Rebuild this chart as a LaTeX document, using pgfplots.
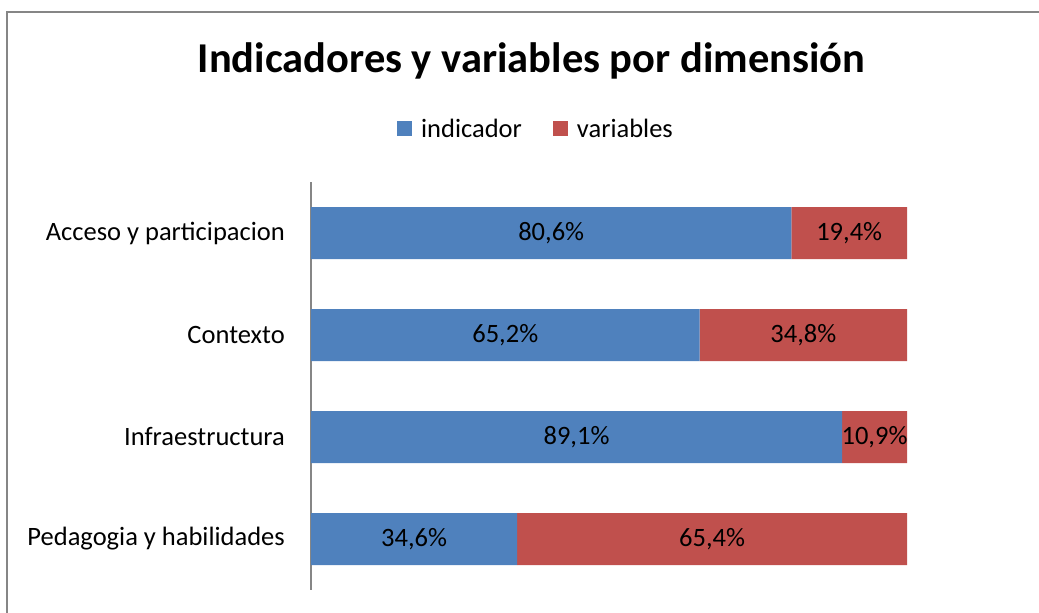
\documentclass[border=0pt]{standalone}
\usepackage{fontspec}
\setmainfont{Carlito}
\usepackage{pgfplots}
\pgfplotsset{compat=1.18}
\definecolor{cblue}{RGB}{79,129,189}
\definecolor{cred}{RGB}{192,80,77}
\definecolor{cgray}{RGB}{134,134,134}
\newcommand{\lblfont}{\fontsize{26.5}{30}\selectfont}
\begin{document}
\begin{tikzpicture}[x=1pt,y=1pt]
\path[use as bounding box] (0,0) rectangle (1039,613);
\draw[cgray,line width=2pt] (7,0) -- (7,601) -- (1039,601);
\node[font=\fontsize{42.5}{48}\selectfont\bfseries] at (531.5,552) {Indicadores y variables por dimensión};
\begin{axis}[
  at={(311pt,23pt)}, anchor=south west,
  scale only axis, width=596pt, height=408pt,
  xbar stacked, bar width=52pt,
  xmin=0, xmax=100, ymin=-0.5, ymax=3.5, y dir=reverse,
  axis x line=none, axis y line=left,
  axis line style={cgray,line width=2pt,-},
  ytick={0,1,2,3},
  yticklabels={Acceso y participacion,Contexto,Infraestructura,Pedagogia y habilidades},
  major tick length=0pt,
  yticklabel style={font=\lblfont, inner sep=0pt, xshift=-26pt},
  legend columns=2,
  legend style={at={(0.3775,1.131)}, anchor=center, draw=none, fill=none,
    font=\lblfont, inner sep=0pt,
    /tikz/every odd column/.append style={column sep=7pt},
    /tikz/every even column/.append style={column sep=29pt}},
  legend image code/.code={\fill[#1] (0pt,-7.5pt) rectangle (15pt,7.5pt);},
]
\addplot[fill=cblue, draw=none] coordinates {(80.6,0) (65.2,1) (89.1,2) (34.6,3)};
\addplot[fill=cred, draw=none] coordinates {(19.4,0) (34.8,1) (10.9,2) (65.4,3)};
\legend{indicador,variables}
\end{axis}
\begin{axis}[
  at={(311pt,23pt)}, anchor=south west,
  scale only axis, width=596pt, height=408pt,
  xmin=0, xmax=100, ymin=-0.5, ymax=3.5, y dir=reverse,
  hide axis,
  nodes near coords, point meta=explicit symbolic,
  every node near coord/.append style={font=\lblfont, anchor=center, inner sep=0pt, yshift=0pt},
]
\addplot[only marks, mark=none] coordinates {
  (40.3,0) [80,6\%] (90.3,0) [19,4\%]
  (32.6,1) [65,2\%] (82.6,1) [34,8\%]
  (44.55,2) [89,1\%] (94.55,2) [10,9\%]
  (17.3,3) [34,6\%] (67.3,3) [65,4\%]
};
\end{axis}
\end{tikzpicture}
\end{document}
